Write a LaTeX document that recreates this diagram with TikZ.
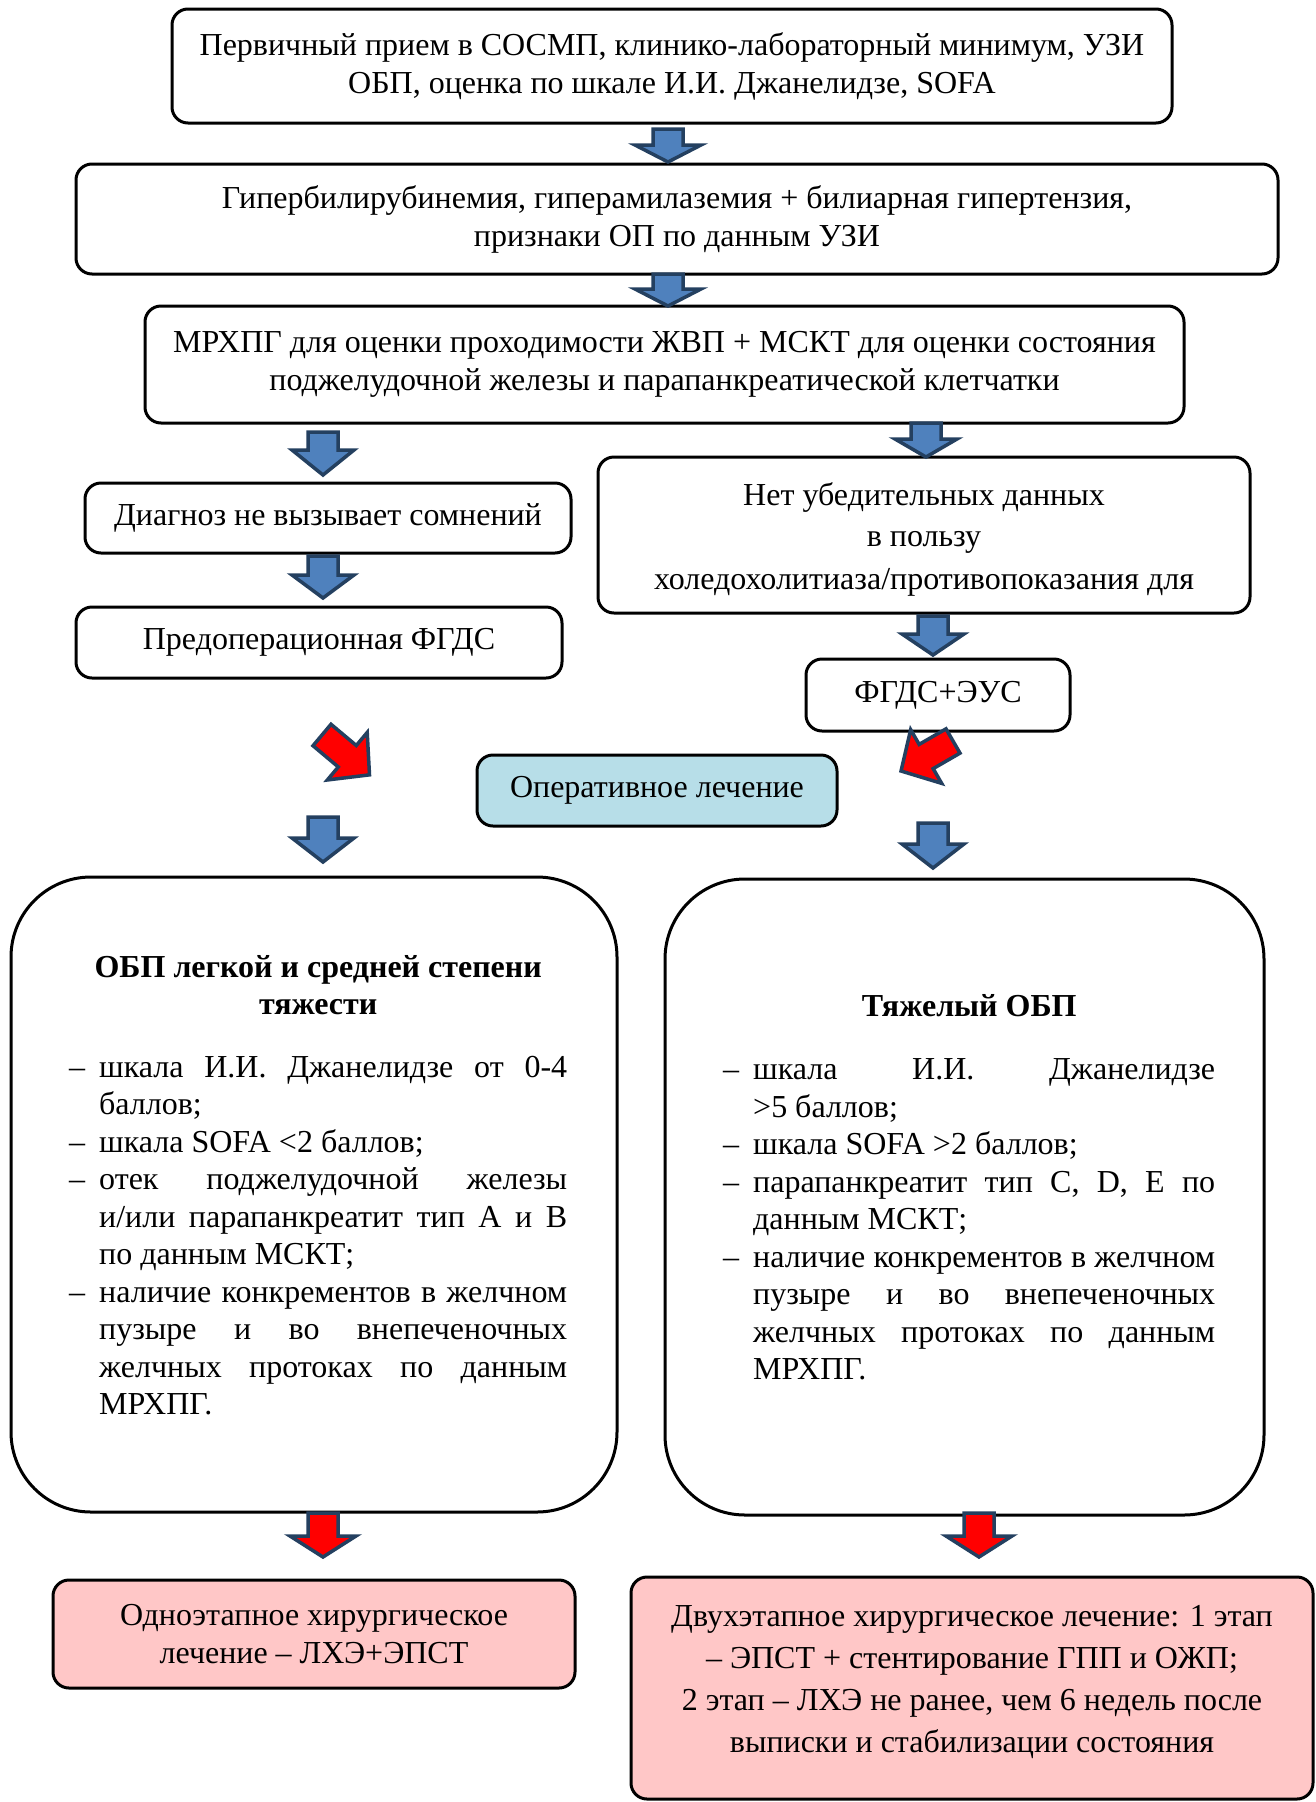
\documentclass[tikz,border=0pt]{standalone}
\usepackage{fontspec}
\setmainfont{Liberation Serif}
\definecolor{arrfill}{RGB}{79,129,189}
\definecolor{arrline}{RGB}{36,64,96}
\definecolor{opblue}{RGB}{183,222,232}
\definecolor{pinkbox}{RGB}{255,199,199}
\definecolor{redarr}{RGB}{255,0,0}
\newcommand\itm[1]{\par\noindent\leftskip=0pt\rightskip=0pt\parfillskip=0pt plus 1fil\hangindent=30pt\hangafter=1\makebox[30pt][l]{–}#1\par}
% x, y, angle, L, h, a, b, fill
\newcommand\blockarr[8]{%
  \begin{scope}[shift={(#1,#2)},rotate=#3]
    \draw[line width=3.5pt, draw=arrline, fill=#8, line join=miter]
      (-#6,0) -- (#6,0) -- (#6,#4-#5) -- (#7,#4-#5) -- (0,#4) -- (-#7,#4-#5) -- (-#6,#4-#5) -- cycle;
  \end{scope}}
\begin{document}
\begin{tikzpicture}[x=1pt,y=-1pt,
  box/.style={draw=black, line width=3pt, rounded corners=16pt, align=center, inner sep=0pt, font=\fontsize{32}{38}\selectfont},
  bigbox/.style={draw=black, line width=3pt, rounded corners=80pt, inner sep=0pt},
  plaintext/.style={inner sep=0pt, align=center, font=\fontsize{32}{42}\selectfont},
  listtext/.style={anchor=north west, inner sep=0pt, align=justify, font=\fontsize{32}{37.5}\selectfont}]
\useasboundingbox[fill=white] (0,0) rectangle (1316,1802);

\node[box, minimum width=1000pt, minimum height=114pt] (b1) at (672,66)
  {Первичный прием в СОСМП, клинико-лабораторный минимум, УЗИ\\ОБП, оценка по шкале И.И. Джанелидзе, SOFA};
\node[box, minimum width=1202pt, minimum height=110pt] (b2) at (677,219)
  {Гипербилирубинемия, гиперамилаземия + билиарная гипертензия,\\признаки ОП по данным УЗИ};
\node[box, minimum width=1039pt, minimum height=117pt] (b3) at (664.5,364.5)
  {МРХПГ для оценки проходимости ЖВП + МСКТ для оценки состояния\\поджелудочной железы и парапанкреатической клетчатки};
\node[box, minimum width=486pt, minimum height=70pt] (b4) at (328,518)
  {Диагноз не вызывает сомнений};
\node[box, minimum width=652pt, minimum height=156pt] (b5) at (924,535) {};
\node[plaintext, font=\fontsize{32}{38}\selectfont] (b5t) at (924,539)
  {Нет убедительных данных\\[3pt]в пользу\\[5pt]холедохолитиаза/противопоказания для};
\node[box, minimum width=486pt, minimum height=71pt] (b6) at (319,642.5)
  {Предоперационная ФГДС};
\node[box, minimum width=264pt, minimum height=72pt] (b7) at (938,695)
  {ФГДС+ЭУС};
\node[box, fill=opblue, minimum width=360pt, minimum height=71pt] (b8) at (657,790.5)
  {Оперативное лечение};

\node[bigbox, minimum width=606pt, minimum height=635pt] (bl) at (314,1194.5) {};
\node[bigbox, minimum width=599pt, minimum height=636pt] (br) at (964.5,1197) {};

\node[listtext, text width=498pt] (tl) at (69,955) {%
  {\centering\bfseries ОБП легкой и средней степени\\ тяжести\par}
  \vspace{25pt}
  \itm{шкала И.И. Джанелидзе от 0-4\linebreak баллов;}
  \itm{шкала SOFA <2 баллов;}
  \itm{отек поджелудочной железы\linebreak и/или парапанкреатит тип А и В\linebreak по данным МСКТ;}
  \itm{наличие конкрементов в желчном\linebreak пузыре и во внепеченочных\linebreak желчных протоках по данным\linebreak МРХПГ.}};
\node[listtext, text width=492pt] (tr) at (723,994) {%
  {\centering\bfseries Тяжелый ОБП\par}
  \vspace{26pt}
  \itm{шкала И.И. Джанелидзе\linebreak >5 баллов;}
  \itm{шкала SOFA >2 баллов;}
  \itm{парапанкреатит тип C, D, E по\linebreak данным МСКТ;}
  \itm{наличие конкрементов в желчном\linebreak пузыре и во внепеченочных\linebreak желчных протоках по данным\linebreak МРХПГ.}};

\node[box, fill=pinkbox, minimum width=522pt, minimum height=108pt] (b9) at (314,1634)
  {Одноэтапное хирургическое\\лечение – ЛХЭ+ЭПСТ};
\node[box, fill=pinkbox, minimum width=682pt, minimum height=222pt] (b10) at (972,1688) {};
\node[plaintext] (b10t) at (972,1682)
  {Двухэтапное хирургическое лечение: 1 этап\\– ЭПСТ + стентирование ГПП и ОЖП;\\2 этап – ЛХЭ не ранее, чем 6 недель после\\выписки и стабилизации состояния};

% blue arrows
\blockarr{668}{129}{0}{33}{17}{15}{33}{arrfill}
\blockarr{668}{274}{0}{32}{17}{15}{33}{arrfill}
\blockarr{323}{432}{0}{43}{25}{15}{31}{arrfill}
\blockarr{926}{423}{0}{34}{18}{15}{31}{arrfill}
\blockarr{323}{556}{0}{42}{23}{15}{31}{arrfill}
\blockarr{933}{616}{0}{39}{21}{15}{31}{arrfill}
\blockarr{323}{817}{0}{45}{24}{15}{31}{arrfill}
\blockarr{933}{823}{0}{45}{24}{15}{31}{arrfill}
% red arrows
\blockarr{322}{735}{50}{62}{29}{14}{31}{redarr}
\blockarr{953}{741}{-60}{60}{29}{14}{31}{redarr}
\blockarr{323}{1513}{0}{44}{21}{15}{33}{redarr}
\blockarr{979}{1513}{0}{44}{21}{15}{33}{redarr}
\end{tikzpicture}
\end{document}
